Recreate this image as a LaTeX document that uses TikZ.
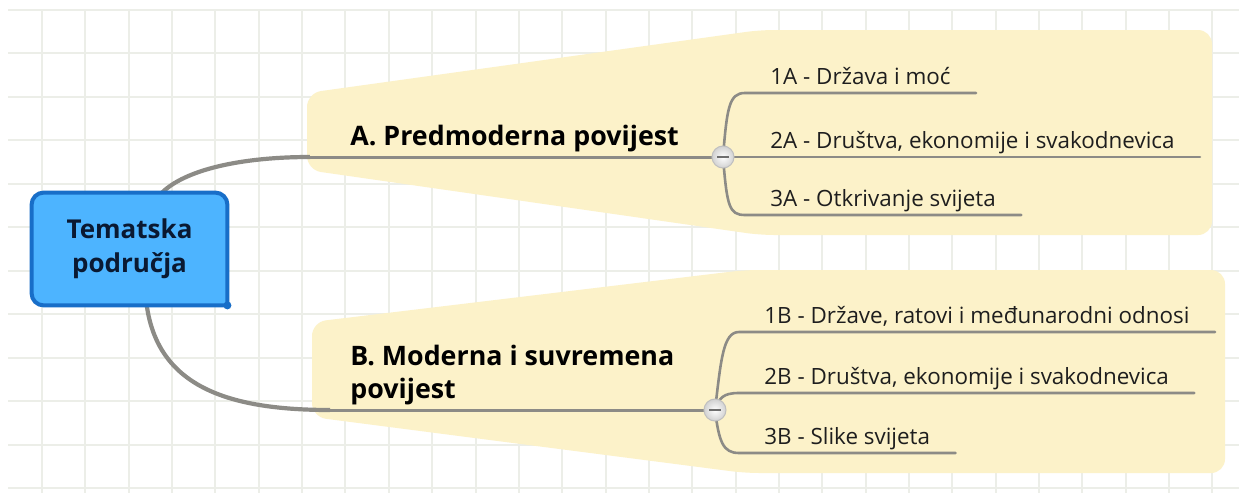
\documentclass[tikz,border=0pt]{standalone}
\usepackage{fontspec}
\setmainfont{Open Sans}
\pgfdeclarelayer{bg}
\pgfsetlayers{bg,main}
\definecolor{gridc}{RGB}{236,238,232}
\definecolor{calloutc}{RGB}{252,242,201}
\definecolor{linec}{RGB}{140,139,134}
\definecolor{rootfill}{RGB}{77,180,255}
\definecolor{rootdraw}{RGB}{24,110,200}
\definecolor{roottext}{RGB}{10,25,50}
\definecolor{leaftext}{RGB}{30,30,30}
\definecolor{minusc}{RGB}{110,110,110}
\tikzset{
  gridline/.style={draw=gridc, line width=1pt},
  callout/.style={fill=calloutc, rounded corners=7pt},
  conn/.style={draw=linec, line width=1.5pt, line cap=round},
  conncurve/.style={draw=linec, line width=2.1pt, line cap=butt},
  subconn/.style={draw=linec, line width=1.3pt, line cap=round},
  rootnode/.style={minimum width=97.5pt, minimum height=56pt, inner sep=0pt, align=center,
    text=roottext, font=\bfseries\fontsize{13}{17}\selectfont},
  head/.style={inner sep=0pt, align=left, text=black, font=\bfseries\fontsize{13.4}{16.5}\selectfont},
  leaf/.style={inner xsep=12.5pt, inner ysep=4pt, text depth=0pt, text=leaftext,
    font=\fontsize{11.2}{13}\selectfont},
  minus/.style={circle, minimum size=11pt, inner sep=0pt, draw=black!25, line width=0.5pt,
    inner color=white, outer color=black!18,
    path picture={\draw[minusc, line width=1.3pt]
      ([xshift=-3pt]path picture bounding box.center) -- ([xshift=3pt]path picture bounding box.center);}}
}
\begin{document}
\begin{tikzpicture}[x=0.5pt,y=-0.5pt]
\useasboundingbox (0,0) rectangle (1239,493);

% nodes
\node[rootnode] (root) at (129.5,249) {Tematska\\područja};
\node[head, anchor=base west] (hA) at (350,145) {A. Predmoderna povijest};
\node[head, anchor=base west] (hB) at (350,398) {B. Moderna i suvremena\\povijest};
\node[minus] (cA) at (723,157) {};
\node[minus] (cB) at (715,410) {};
\node[leaf, anchor=south west] (a1) at (745,93) {1A - Država i moć};
\node[leaf, anchor=south west] (a2) at (745,157) {2A - Društva, ekonomije i svakodnevica};
\node[leaf, anchor=south west] (a3) at (745,215) {3A - Otkrivanje svijeta};
\node[leaf, anchor=south west] (b1) at (739,332) {1B - Države, ratovi i međunarodni odnosi};
\node[leaf, anchor=south west] (b2) at (739,393) {2B - Društva, ekonomije i svakodnevica};
\node[leaf, anchor=south west] (b3) at (739,453) {3B - Slike svijeta};
\coordinate (jA) at (310,157);
\coordinate (jB) at (330,410);

\begin{pgfonlayer}{bg}
  \fill[white] (0,0) rectangle (1239,493);
  % grid
  \foreach \k in {0,...,27} \draw[gridline] (42+43.35*\k,10) -- (42+43.35*\k,493);
  \foreach \k in {0,...,11} \draw[gridline] (8,10+43.45*\k) -- (1239,10+43.45*\k);
  % callouts
  \fill[callout] (307,93) -- (760,30) -- (1212,30) -- (1212,235) -- (760,235) -- (307,170) -- cycle;
  \fill[callout] (312,322) -- (745,270) -- (1225,270) -- (1225,473) -- (745,473) -- (312,417) -- cycle;
  % main connectors
  \draw[conncurve] (root.60) .. controls (185,170) and (240,157) .. (jA);
  \draw[conn] (jA) -- (cA);
  \draw[conncurve] (root.-73) .. controls (158,385) and (225,410) .. (jB);
  \draw[conn] (jB) -- (cB);
  % sub connectors A
  \draw[subconn] (cA.center) .. controls (727,108) and (729,93) .. (a1.south west) -- (a1.south east);
  \draw[subconn] (cA.center) -- (a2.south west) -- (a2.south east);
  \draw[subconn] (cA.center) .. controls (727,206) and (729,215) .. (a3.south west) -- (a3.south east);
  % sub connectors B
  \draw[subconn] (cB.center) .. controls (721,360) and (723,332) .. (b1.south west) -- (b1.south east);
  \draw[subconn] (cB.center) .. controls (719,398) and (723,393) .. (b2.south west) -- (b2.south east);
  \draw[subconn] (cB.center) .. controls (719,442) and (723,453) .. (b3.south west) -- (b3.south east);
  % root shape
  \path[fill=rootfill, draw=rootdraw, line width=2pt, rounded corners=6pt]
    (root.south) -| (root.west) |- (root.north) -| (root.east) [sharp corners] |- (root.south) -- cycle;
  \fill[rootdraw] (root.south east) circle (2pt);
\end{pgfonlayer}
\end{tikzpicture}
\end{document}
